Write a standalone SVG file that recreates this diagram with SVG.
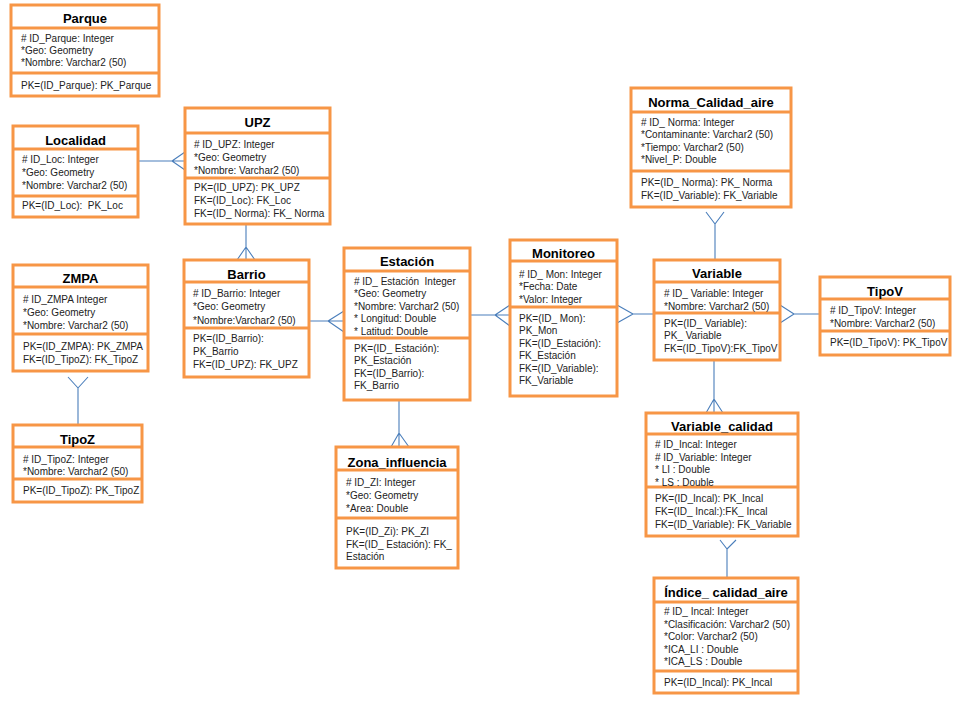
<svg xmlns="http://www.w3.org/2000/svg" width="960" height="720" viewBox="0 0 960 720">
<style>
.box{fill:#fff;stroke:#F79646;stroke-width:3}
.sep{stroke:#F79646;stroke-width:3}
.t{font-family:"Liberation Sans",Arial,sans-serif;font-size:13px;font-weight:bold;fill:#000;text-anchor:middle}
.a{font-family:"Liberation Sans",Arial,sans-serif;font-size:10px;fill:#222;white-space:pre}
.c{stroke:#4A7EBB;stroke-width:1.1;fill:none}
</style>
<rect width="960" height="720" fill="#fff"/>
<g id="connectors">
<path class="c" d="M138,161H185M172,161L185,152M172,161L185,170"/>
<path class="c" d="M246,224V260M246,247L237,260M246,247L255,260"/>
<path class="c" d="M309,321H344M328,321L344,311M328,321L344,332"/>
<path class="c" d="M470,315H510M495,315L510,305M495,315L510,326"/>
<path class="c" d="M633,314H654M633,314L617,305M633,314L617,323"/>
<path class="c" d="M715,224V260M715,224L706,212M715,224L724,212"/>
<path class="c" d="M794,314H820M794,314L780,305M794,314L780,323"/>
<path class="c" d="M714,360V413M714,399L706,413M714,399L723,413"/>
<path class="c" d="M727,549V578M727,549L720,540M727,549L736,540"/>
<path class="c" d="M399,400V447M399,433L391,447M399,433L409,447"/>
<path class="c" d="M78,388V425M78,388L68,377M78,388L88,377"/>
</g>
<g id="parque">
<rect class="box" x="11" y="5" width="148" height="91"/>
<line class="sep" x1="11" y1="28" x2="159" y2="28"/><line class="sep" x1="11" y1="73" x2="159" y2="73"/>
<text class="t" x="85" y="23">Parque</text>
<text class="a"><tspan x="21" y="41.5"># ID_Parque: Integer</tspan><tspan x="21" y="53.5">*Geo: Geometry</tspan><tspan x="21" y="65.5">*Nombre: Varchar2 (50)</tspan><tspan x="21" y="88.5">PK=(ID_Parque): PK_Parque</tspan></text>
</g>
<g id="localidad">
<rect class="box" x="13" y="126" width="125" height="91"/>
<line class="sep" x1="13" y1="149" x2="138" y2="149"/><line class="sep" x1="13" y1="196" x2="138" y2="196"/>
<text class="t" x="75.5" y="144.5">Localidad</text>
<text class="a"><tspan x="22" y="162.5"># ID_Loc: Integer</tspan><tspan x="22" y="175.5">*Geo: Geometry</tspan><tspan x="22" y="188.5">*Nombre: Varchar2 (50)</tspan><tspan x="22" y="208.5">PK=(ID_Loc):&#160; PK_Loc</tspan></text>
</g>
<g id="upz">
<rect class="box" x="185" y="108" width="145" height="116"/>
<line class="sep" x1="185" y1="133" x2="330" y2="133"/><line class="sep" x1="185" y1="178" x2="330" y2="178"/>
<text class="t" x="257.5" y="126.5">UPZ</text>
<text class="a"><tspan x="194" y="148"># ID_UPZ: Integer</tspan><tspan x="194" y="161">*Geo: Geometry</tspan><tspan x="194" y="174">*Nombre: Varchar2 (50)</tspan><tspan x="194" y="191">PK=(ID_UPZ): PK_UPZ</tspan><tspan x="194" y="204">FK=(ID_Loc): FK_Loc</tspan><tspan x="194" y="217">FK=(ID_ Norma): FK_ Norma</tspan></text>
</g>
<g id="barrio">
<rect class="box" x="184" y="260" width="125" height="117"/>
<line class="sep" x1="184" y1="282" x2="309" y2="282"/><line class="sep" x1="184" y1="328" x2="309" y2="328"/>
<text class="t" x="246.5" y="278.5">Barrio</text>
<text class="a"><tspan x="193" y="296.5"># ID_Barrio: Integer</tspan><tspan x="193" y="310">*Geo: Geometry</tspan><tspan x="193" y="323.5">*Nombre:Varchar2 (50)</tspan><tspan x="193" y="341.5">PK=(ID_Barrio):</tspan><tspan x="193" y="354.5">PK_Barrio</tspan><tspan x="193" y="368">FK=(ID_UPZ): FK_UPZ</tspan></text>
</g>
<g id="zmpa">
<rect class="box" x="13" y="265" width="135" height="106"/>
<line class="sep" x1="13" y1="287" x2="148" y2="287"/><line class="sep" x1="13" y1="334" x2="148" y2="334"/>
<text class="t" x="80.5" y="282.5">ZMPA</text>
<text class="a"><tspan x="23" y="302.5"># ID_ZMPA Integer</tspan><tspan x="23" y="315.5">*Geo: Geometry</tspan><tspan x="23" y="328.5">*Nombre: Varchar2 (50)</tspan><tspan x="23" y="349.5">PK=(ID_ZMPA): PK_ZMPA</tspan><tspan x="23" y="362.5">FK=(ID_TipoZ): FK_TipoZ</tspan></text>
</g>
<g id="tipoz">
<rect class="box" x="13" y="425" width="129" height="77"/>
<line class="sep" x1="13" y1="447" x2="142" y2="447"/><line class="sep" x1="13" y1="479" x2="142" y2="479"/>
<text class="t" x="77.5" y="443.5">TipoZ</text>
<text class="a"><tspan x="23" y="462.5"># ID_TipoZ: Integer</tspan><tspan x="23" y="474.5">*Nombre: Varchar2 (50)</tspan><tspan x="23" y="493.5">PK=(ID_TipoZ): PK_TipoZ</tspan></text>
</g>
<g id="estacion">
<rect class="box" x="344" y="248" width="126" height="152"/>
<line class="sep" x1="344" y1="271" x2="470" y2="271"/><line class="sep" x1="344" y1="338" x2="470" y2="338"/>
<text class="t" x="407" y="265.5">Estación</text>
<text class="a"><tspan x="354" y="284.5"># ID_ Estación&#160; Integer</tspan><tspan x="354" y="297">*Geo: Geometry</tspan><tspan x="354" y="309.5">*Nombre: Varchar2 (50)</tspan><tspan x="354" y="322">* Longitud: Double</tspan><tspan x="354" y="334.5">* Latitud: Double</tspan><tspan x="354" y="351.5">PK=(ID_ Estación):</tspan><tspan x="354" y="364">PK_Estación</tspan><tspan x="354" y="376.5">FK=(ID_Barrio):</tspan><tspan x="354" y="389">FK_Barrio</tspan></text>
</g>
<g id="monitoreo">
<rect class="box" x="510" y="240" width="107" height="156"/>
<line class="sep" x1="510" y1="261" x2="617" y2="261"/><line class="sep" x1="510" y1="307" x2="617" y2="307"/>
<text class="t" x="563.5" y="257.5">Monitoreo</text>
<text class="a"><tspan x="519" y="277.5"># ID_ Mon: Integer</tspan><tspan x="519" y="290">*Fecha: Date</tspan><tspan x="519" y="302.5">*Valor: Integer</tspan><tspan x="519" y="321.5">PK=(ID_ Mon):</tspan><tspan x="519" y="334">PK_Mon</tspan><tspan x="519" y="346.5">FK=(ID_Estación):</tspan><tspan x="519" y="359">FK_Estación</tspan><tspan x="519" y="371.5">FK=(ID_Variable):</tspan><tspan x="519" y="384">FK_Variable</tspan></text>
</g>
<g id="zona_influencia">
<rect class="box" x="336" y="447" width="122" height="121"/>
<line class="sep" x1="336" y1="470" x2="458" y2="470"/><line class="sep" x1="336" y1="518" x2="458" y2="518"/>
<text class="t" x="397" y="466.5">Zona_influencia</text>
<text class="a"><tspan x="346" y="485.5"># ID_ZI: Integer</tspan><tspan x="346" y="498.5">*Geo: Geometry</tspan><tspan x="346" y="511.5">*Area: Double</tspan><tspan x="346" y="535">PK=(ID_Zi): PK_ZI</tspan><tspan x="346" y="547.5">FK=(ID_ Estación): FK_</tspan><tspan x="346" y="560">Estación</tspan></text>
</g>
<g id="norma_calidad_aire">
<rect class="box" x="631" y="88" width="160" height="119"/>
<line class="sep" x1="631" y1="112" x2="791" y2="112"/><line class="sep" x1="631" y1="171" x2="791" y2="171"/>
<text class="t" x="711" y="106.5">Norma_Calidad_aire</text>
<text class="a"><tspan x="641" y="125.5"># ID_ Norma: Integer</tspan><tspan x="641" y="138">*Contaminante: Varchar2 (50)</tspan><tspan x="641" y="150.5">*Tiempo: Varchar2 (50)</tspan><tspan x="641" y="163">*Nivel_P: Double</tspan><tspan x="641" y="186">PK=(ID_ Norma): PK_ Norma</tspan><tspan x="641" y="199">FK=(ID_Variable): FK_Variable</tspan></text>
</g>
<g id="variable">
<rect class="box" x="654" y="260" width="126" height="100"/>
<line class="sep" x1="654" y1="282" x2="780" y2="282"/><line class="sep" x1="654" y1="313" x2="780" y2="313"/>
<text class="t" x="717" y="277.5">Variable</text>
<text class="a"><tspan x="664" y="297"># ID_ Variable: Integer</tspan><tspan x="664" y="310">*Nombre: Varchar2 (50)</tspan><tspan x="664" y="326.5">PK=(ID_ Variable):</tspan><tspan x="664" y="339">PK_ Variable</tspan><tspan x="664" y="351.5">FK=(ID_TipoV):FK_TipoV</tspan></text>
</g>
<g id="tipov">
<rect class="box" x="820" y="277" width="130" height="78"/>
<line class="sep" x1="820" y1="299" x2="950" y2="299"/><line class="sep" x1="820" y1="331" x2="950" y2="331"/>
<text class="t" x="885" y="295.5">TipoV</text>
<text class="a"><tspan x="830" y="313.5"># ID_TipoV: Integer</tspan><tspan x="830" y="326.5">*Nombre: Varchar2 (50)</tspan><tspan x="830" y="345.5">PK=(ID_TipoV): PK_TipoV</tspan></text>
</g>
<g id="variable_calidad">
<rect class="box" x="646" y="413" width="152" height="123"/>
<line class="sep" x1="646" y1="434" x2="798" y2="434"/><line class="sep" x1="646" y1="487" x2="798" y2="487"/>
<text class="t" x="722" y="430.5">Variable_calidad</text>
<text class="a"><tspan x="655" y="448"># ID_Incal: Integer</tspan><tspan x="655" y="460.5"># ID_Variable: Integer</tspan><tspan x="655" y="473">* LI : Double</tspan><tspan x="655" y="485.5">* LS : Double</tspan><tspan x="655" y="501.5">PK=(ID_Incal): PK_Incal</tspan><tspan x="655" y="514.5">FK=(ID_ Incal:):FK_ Incal</tspan><tspan x="655" y="527.5">FK=(ID_Variable): FK_Variable</tspan></text>
</g>
<g id="indice_calidad_aire">
<rect class="box" x="654" y="578" width="144" height="115"/>
<line class="sep" x1="654" y1="602" x2="798" y2="602"/><line class="sep" x1="654" y1="671" x2="798" y2="671"/>
<text class="t" x="726" y="596.5">Índice_ calidad_aire</text>
<text class="a"><tspan x="664" y="615"># ID_ Incal: Integer</tspan><tspan x="664" y="627.5">*Clasificación: Varchar2 (50)</tspan><tspan x="664" y="640">*Color: Varchar2 (50)</tspan><tspan x="664" y="652.5">*ICA_LI : Double</tspan><tspan x="664" y="665">*ICA_LS : Double</tspan><tspan x="664" y="685.5">PK=(ID_Incal): PK_Incal</tspan></text>
</g>
</svg>
